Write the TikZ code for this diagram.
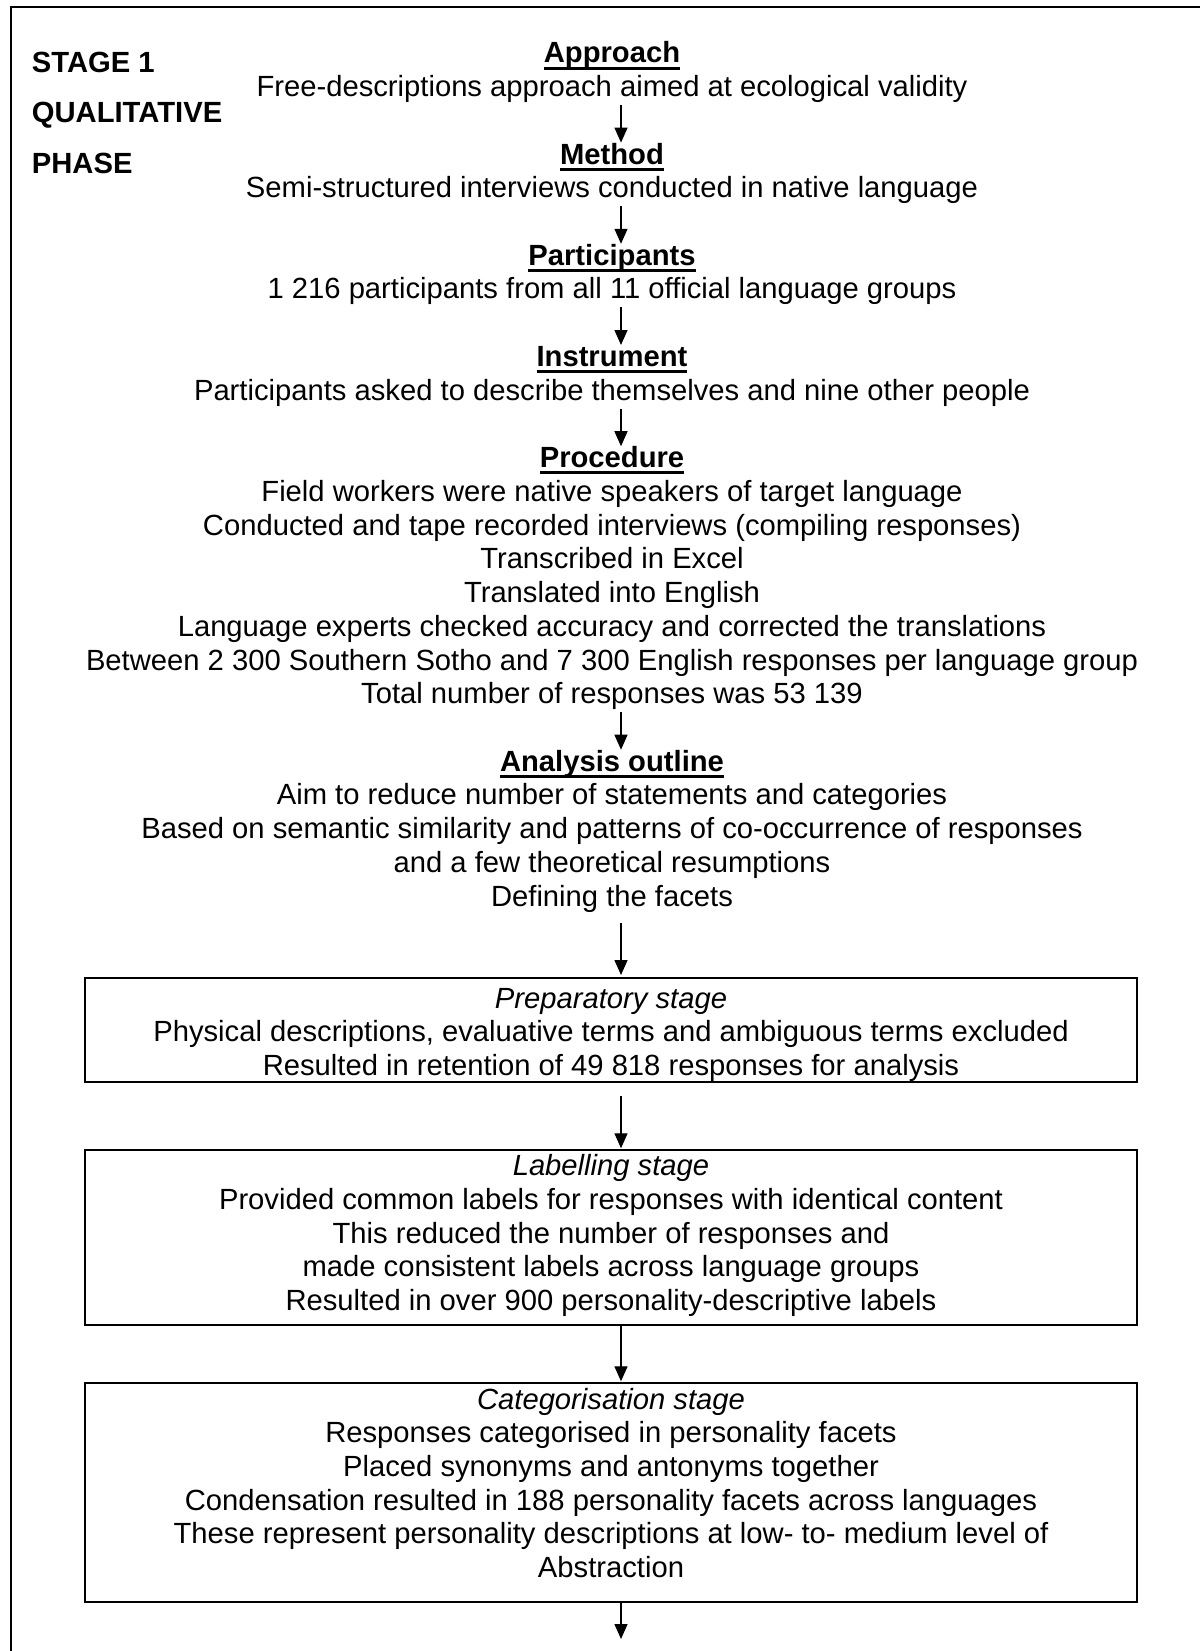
\documentclass[tikz,border=0pt]{standalone}
\usepackage{fontspec}
\setmainfont{Liberation Sans}
\usetikzlibrary{arrows.meta}
\newcommand\hd[1]{\setbox0=\hbox{\bfseries #1}\leavevmode\rlap{\rule[-3.4pt]{\wd0}{1.5pt}}\box0}
\newcommand\fl[1]{\rule{0pt}{#1}}
\newcommand\lastd[1]{\rule[-#1]{0pt}{#1}}
\begin{document}
\begin{tikzpicture}[x=0.5pt,y=-0.5pt,
  txt/.style={align=center,inner sep=0pt,anchor=north,font=\fontsize{14.6pt}{16.87pt}\selectfont},
  stagebox/.style={txt,draw,line width=1pt,minimum width=526pt},
  arr/.style={-{Triangle[length=7.5pt,width=6.5pt]},line width=0.65pt}]
\fill[white] (0,0) rectangle (1200,1651);
\useasboundingbox (0,0) rectangle (1200,1651);
\draw[line width=1.2pt] (11,1652) -- (11,7) -- (1201,7);

\node[font=\fontsize{14.6pt}{25.4pt}\selectfont\bfseries, align=left, inner sep=0pt, anchor=north west] (stage) at (31.5,47.7) {\fl{12pt}STAGE 1\\QUALITATIVE\\PHASE};

\node[txt] (approach) at (612,38.4) {\fl{12pt}\hd{Approach}\\Free-descriptions approach aimed at ecological validity\lastd{4pt}};
\node[txt] (method) at (612,139.6) {\fl{12pt}\hd{Method}\\Semi-structured interviews conducted in native language\lastd{4pt}};
\node[txt] (participants) at (612,240.8) {\fl{12pt}\hd{Participants}\\1 216 participants from all 11 official language groups\lastd{4pt}};
\node[txt] (instrument) at (612,342) {\fl{12pt}\hd{Instrument}\\Participants asked to describe themselves and nine other people\lastd{4pt}};
\node[txt] (procedure) at (612,443.2) {\fl{12pt}\hd{Procedure}\\Field workers were native speakers of target language\\Conducted and tape recorded interviews (compiling responses)\\Transcribed in Excel\\Translated into English\\Language experts checked accuracy and corrected the translations\\Between 2 300 Southern Sotho and 7 300 English responses per language group\\Total number of responses was 53 139\lastd{4pt}};
\node[txt] (analysis) at (612,746.7) {\fl{12pt}\hd{Analysis outline}\\Aim to reduce number of statements and categories\\Based on semantic similarity and patterns of co-occurrence of responses\\and a few theoretical resumptions\\Defining the facets\lastd{4pt}};

\node[stagebox] (prep) at (611,977) {\fl{15pt}\textit{Preparatory stage}\\Physical descriptions, evaluative terms and ambiguous terms excluded\\Resulted in retention of 49 818 responses for analysis\lastd{3.5pt}};
\node[stagebox] (label) at (611,1149.3) {\fl{12.65pt}\textit{Labelling stage}\\Provided common labels for responses with identical content\\This reduced the number of responses and\\made consistent labels across language groups\\Resulted in over 900 personality-descriptive labels\lastd{7.25pt}};
\node[stagebox] (cat) at (611,1382.3) {\fl{12.85pt}\textit{Categorisation stage}\\Responses categorised in personality facets\\Placed synonyms and antonyms together\\Condensation resulted in 188 personality facets across languages\\These represent personality descriptions at low- to- medium level of\\Abstraction\lastd{12pt}};

\coordinate (ax) at (621,0);
\coordinate (end) at (621,1639);
\draw[arr,shorten >=-1.5pt] (approach.south -| ax) -- (method.north -| ax);
\draw[arr,shorten >=-1.5pt] (method.south -| ax) -- (participants.north -| ax);
\draw[arr,shorten >=-1.5pt] (participants.south -| ax) -- (instrument.north -| ax);
\draw[arr,shorten >=-1.5pt] (instrument.south -| ax) -- (procedure.north -| ax);
\draw[arr,shorten >=-1.5pt] (procedure.south -| ax) -- (analysis.north -| ax);
\draw[arr,shorten <=4.5pt,shorten >=1pt] (analysis.south -| ax) -- (prep.north -| ax);
\draw[arr,shorten <=6.5pt,shorten >=0.5pt] (prep.south -| ax) -- (label.north -| ax);
\draw[arr,shorten >=0.5pt] (label.south -| ax) -- (cat.north -| ax);
\draw[arr] (cat.south -| ax) -- (end);
\end{tikzpicture}
\end{document}
